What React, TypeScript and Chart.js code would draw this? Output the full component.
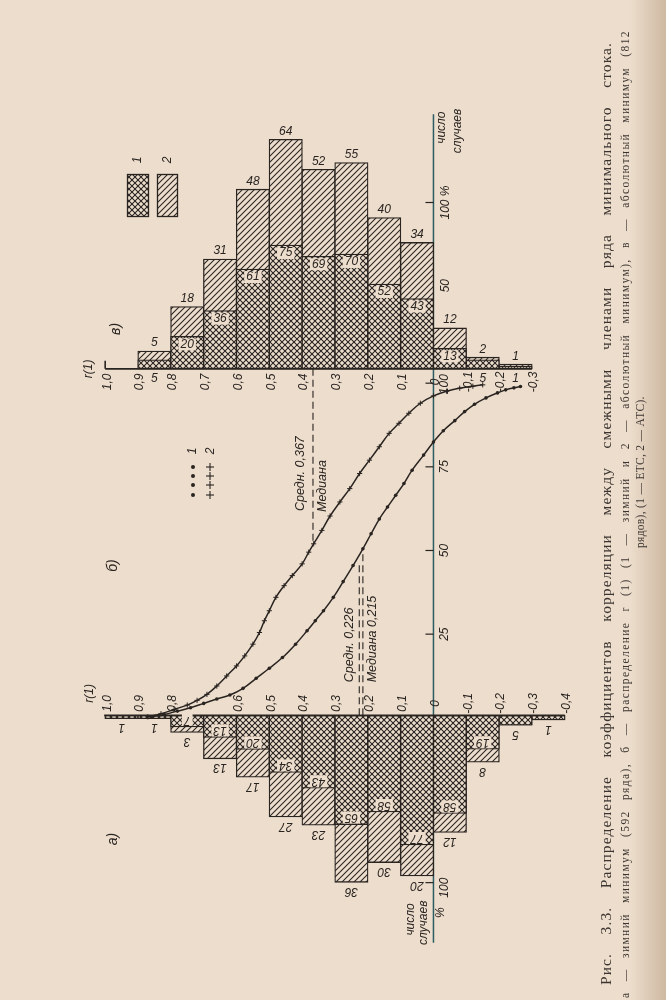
import React, { useEffect, useRef } from "react";
import { Chart, registerables } from "chart.js";

Chart.register(...registerables);

// ---------------- data ----------------
// panel в — absolute minimum (812 series): r(1) interval centres
const rCentersV = [0.85, 0.75, 0.65, 0.55, 0.45, 0.35, 0.25, 0.15, 0.05, -0.05, -0.15, -0.25];
const countLabelsV = [5, 18, 31, 48, 64, 52, 55, 40, 34, 12, 2, 1];
const outerLenV = [10.7, 37.4, 66, 108, 138, 120, 124, 91, 76, 24.6, 7, 2.8];
const innerLenV = [5.4, 19.5, 35, 60, 74.4, 67.7, 69, 51, 42.3, 12.3, 5.4, 1.5];
const innerLabelsV = [5, 20, 36, 61, 75, 69, 70, 52, 43, 13, 5, 1];

// panel а — winter minimum (592 series)
const rCentersA = [0.95, 0.85, 0.75, 0.65, 0.55, 0.45, 0.35, 0.25, 0.15, 0.05, -0.05, -0.15, -0.25, -0.35];
const countLabelsA = [1, 1, 3, 13, 17, 27, 23, 36, 30, 20, 12, 8, 5, 1];
const outerLenA = [2, 2, 10.2, 26, 37, 60.7, 65.7, 99.8, 88, 96, 70, 28, 5.9, 2.8];
const innerLenA = [2, 2, 6.9, 13.2, 20.4, 34.1, 43.6, 65.3, 57.8, 77.5, 58.7, 20.3, 5.9, 2.8];
const innerLabelsA = [null, null, 7, 13, 20, 34, 43, 65, 58, 77, 58, 19, null, null];

// panel б — cumulative distributions
const curve1R = [0.86, 0.82, 0.78, 0.74, 0.7, 0.66, 0.62, 0.58, 0.54, 0.5, 0.46, 0.42, 0.385, 0.36, 0.335, 0.305, 0.275, 0.245, 0.215, 0.19, 0.165, 0.14, 0.115, 0.09, 0.065, 0.03, 0.0, -0.03, -0.065, -0.095, -0.125, -0.16, -0.195, -0.22, -0.245, -0.265];
const curve1Pct = [0.3, 1.0, 2.0, 3.0, 4.3, 5.6, 6.8, 8.8, 11.8, 14.8, 18, 22, 26, 29, 32, 36, 40.7, 45.5, 50.5, 55, 59.4, 63, 66.5, 70, 74, 78.5, 82.4, 85.8, 88.8, 91.5, 93.7, 95.6, 97.1, 98, 98.6, 99];
const curve2R = [0.87, 0.83, 0.79, 0.75, 0.72, 0.69, 0.66, 0.63, 0.6, 0.575, 0.55, 0.53, 0.515, 0.5, 0.48, 0.455, 0.43, 0.4, 0.38, 0.365, 0.34, 0.315, 0.285, 0.255, 0.225, 0.195, 0.165, 0.135, 0.105, 0.075, 0.04, 0.0, -0.04, -0.08, -0.12, -0.15];
const curve2Pct = [0.3, 1.2, 2.5, 3.8, 5.2, 7, 9.5, 12.5, 15.5, 18.5, 22, 25.5, 29, 32, 36, 39.5, 42.5, 46, 49.5, 52, 56, 60.3, 64.5, 68.5, 73, 77, 81, 85, 88, 91, 94, 96.2, 97.6, 98.5, 99.1, 99.5];
const mean2 = 0.367;
const mean1 = 0.226;
const median1 = 0.215;

// tick labels
const rTicksV = [1.0, 0.9, 0.8, 0.7, 0.6, 0.5, 0.4, 0.3, 0.2, 0.1, 0, -0.1, -0.2, -0.3];
const rTicksA = [1.0, 0.9, 0.8, 0.6, 0.5, 0.4, 0.3, 0.2, 0.1, 0, -0.1, -0.2, -0.3, -0.4];
const pctTicksB = [25, 50, 75, 100];
const pctTicksV = [50, 100];
const pctLabelsV = ["50", "100 %"];
const pctTicksA = [50, 100];
const pctLabelsA = ["50", "100"];

const caption1 = "Рис. 3.3. Распределение коэффициентов корреляции между смежными членами ряда минимального стока.";
const caption2 = "а — зимний минимум (592 ряда), б — распределение r (1) (1 — зимний и 2 — абсолютный минимум), в — абсолютный минимум (812";
const caption3 = "рядов), (1 — ЕТС, 2 — АТС).";

// ---------------- layout / style ----------------
const W = 666;
const H = 1000;
const R_ONE_PX = 101.7;
const PX_PER_R = 333.3;
const ZERO_PX_V = 367.5;
const K_V = 1.68;
const ZERO_PX_A = 717.5;
const K_A = 1.69;
const ZERO_PX_B = 720;
const K_B = 3.38;

const INK = "#2a2421";
const PAPER = "#ecddcc";
const TEAL = "#2c5d63";
const AX_FONT = 'italic 12px "Liberation Sans", Arial, sans-serif';
const LBL_FONT = 'italic 12px "Liberation Sans", Arial, sans-serif';
const UP = -Math.PI / 2;

function makePattern(cross: boolean) {
  const s = 6;
  const c = document.createElement("canvas");
  c.width = s;
  c.height = s;
  const g = c.getContext("2d")!;
  g.fillStyle = PAPER;
  g.fillRect(0, 0, s, s);
  g.strokeStyle = INK;
  g.lineWidth = 1.05;
  const seg = (a: number, b: number, cc: number, d: number) => {
    g.beginPath();
    g.moveTo(a, b);
    g.lineTo(cc, d);
    g.stroke();
  };
  seg(-1, s + 1, s + 1, -1);
  seg(-1, 1, 1, -1);
  seg(s - 1, s + 1, s + 1, s - 1);
  if (cross) {
    seg(-1, -1, s + 1, s + 1);
    seg(s - 1, -1, s + 1, 1);
    seg(-1, s - 1, 1, s + 1);
  }
  return g.createPattern(c, "repeat");
}

function txt(ctx: any, s: string, x: number, y: number, rot: number, align = "center", base = "middle", font = AX_FONT, color = INK) {
  ctx.save();
  ctx.translate(x, y);
  ctx.rotate(rot);
  ctx.font = font;
  ctx.fillStyle = color;
  ctx.textAlign = align;
  ctx.textBaseline = base;
  ctx.fillText(s, 0, 0);
  ctx.restore();
}

function knockText(ctx: any, s: string, x: number, y: number, rot: number) {
  ctx.save();
  ctx.translate(x, y);
  ctx.rotate(rot);
  ctx.font = LBL_FONT;
  const w = ctx.measureText(s).width;
  ctx.fillStyle = PAPER;
  ctx.fillRect(-w / 2 - 2, -6, w + 4, 12);
  ctx.fillStyle = INK;
  ctx.textAlign = "center";
  ctx.textBaseline = "middle";
  ctx.fillText(s, 0, 0);
  ctx.restore();
}

function justified(ctx: any, s: string, x: number, yStart: number, yEnd: number | null, font: string, spacing: string, color: string) {
  ctx.save();
  ctx.translate(x, yStart);
  ctx.rotate(UP);
  ctx.font = font;
  try { ctx.letterSpacing = spacing; } catch (e) {}
  ctx.fillStyle = color;
  ctx.textAlign = "left";
  ctx.textBaseline = "alphabetic";
  if (yEnd === null) {
    ctx.fillText(s, 0, 0);
  } else {
    const words = s.split(" ");
    const ws = words.map((w) => ctx.measureText(w).width);
    const total = ws.reduce((a, b) => a + b, 0);
    const gap = (yStart - yEnd - total) / (words.length - 1);
    let p = 0;
    words.forEach((w, i) => {
      ctx.fillText(w, p, 0);
      p += ws[i] + gap;
    });
  }
  ctx.restore();
}

function fmtR(r: number) {
  if (Math.abs(r) < 1e-9) return "0";
  return (r < 0 ? "-" : "") + Math.abs(r).toFixed(1).replace(".", ",");
}

function pctAt(rs: number[], ps: number[], r: number) {
  for (let i = 0; i < rs.length - 1; i++) {
    if (rs[i] >= r && rs[i + 1] <= r) {
      const t = (rs[i] - r) / (rs[i] - rs[i + 1]);
      return ps[i] + t * (ps[i + 1] - ps[i]);
    }
  }
  return 0;
}

function makeOverlay(hatch: any, cross: any) {
  return {
    id: "overlay",
    beforeDraw(chart: any) {
      const ctx = chart.ctx;
      ctx.save();
      ctx.fillStyle = PAPER;
      ctx.fillRect(0, 0, W, H);
      const g = ctx.createLinearGradient(630, 0, W, 0);
      g.addColorStop(0, "rgba(170,140,110,0)");
      g.addColorStop(1, "rgba(170,140,110,0.45)");
      ctx.fillStyle = g;
      ctx.fillRect(630, 0, W - 630, H);
      ctx.restore();
    },
    beforeDatasetsDraw(chart: any) {
      const ctx = chart.ctx;
      const X = (v: number) => chart.scales.x.getPixelForValue(v);
      const YV = (v: number) => chart.scales.yV.getPixelForValue(v);
      const YA = (v: number) => chart.scales.yA.getPixelForValue(v);
      const YB = (v: number) => chart.scales.yB.getPixelForValue(v);
      const line = (a: number, b: number, c: number, d: number) => {
        ctx.beginPath();
        ctx.moveTo(a, b);
        ctx.lineTo(c, d);
        ctx.stroke();
      };
      ctx.save();
      // teal r = 0 / percent axis line
      ctx.strokeStyle = TEAL;
      ctx.lineWidth = 1.5;
      line(X(0), YV(153), X(0), YA(136));
      // percent ticks
      ctx.strokeStyle = INK;
      ctx.lineWidth = 1.2;
      const x0 = X(0);
      pctTicksV.forEach((p, i) => {
        line(x0 - 8, YV(p), x0, YV(p));
        txt(ctx, pctLabelsV[i], x0 + 12, YV(p), UP);
      });
      pctTicksB.forEach((p) => {
        line(x0 - 8, YB(p), x0, YB(p));
        txt(ctx, String(p), x0 + 11, YB(p) + (p === 100 ? 1 : 0), UP);
      });
      pctTicksA.forEach((p, i) => {
        line(x0 - 8, YA(p), x0, YA(p));
        txt(ctx, pctLabelsA[i], x0 + 11, YA(p) + 5, UP);
      });
      txt(ctx, "%", x0 + 7, YA(118), UP);
      txt(ctx, "число", x0 + 8, YV(145), UP);
      txt(ctx, "случаев", x0 + 24, YV(143), UP);
      txt(ctx, "число", x0 - 23, YA(122), UP);
      txt(ctx, "случаев", x0 - 10, YA(124), UP);

      // r tick labels
      rTicksV.forEach((r) => txt(ctx, fmtR(r), X(r) + 2, YV(0) + 13, UP));
      rTicksA.forEach((r) => txt(ctx, fmtR(r), X(r) + 2, YA(0) - 12, UP));
      txt(ctx, "r(1)", X(1.0) - 17, YV(0), UP);
      txt(ctx, "r(1)", X(1.0) - 16, YA(0) - 22, UP);

      // panel labels
      const PF = 'italic 14px "Liberation Sans", Arial, sans-serif';
      txt(ctx, "в)", X(1.0) + 11, YV(24), UP, "center", "middle", PF);
      txt(ctx, "б)", X(1.0) + 8, YB(45.5), UP, "center", "middle", PF);
      txt(ctx, "а)", X(1.0) + 8, YA(74), UP, "center", "middle", PF);

      // mean / median dashed lines
      ctx.setLineDash([7, 4]);
      ctx.lineWidth = 1.1;
      line(X(mean2), YV(0), X(mean2), YB(pctAt(curve2R, curve2Pct, mean2)));
      line(X(mean1), YA(0), X(mean1), YB(pctAt(curve1R, curve1Pct, mean1) - 2));
      line(X(median1), YA(0), X(median1), YB(pctAt(curve1R, curve1Pct, median1)));
      ctx.setLineDash([]);
      const AF = 'italic 12.5px "Liberation Sans", Arial, sans-serif';
      txt(ctx, "Средн. 0,367", X(mean2) - 12, YB(61.8), UP, "left", "middle", AF);
      txt(ctx, "Медиана", X(mean2) + 10, YB(61.5), UP, "left", "middle", AF);
      txt(ctx, "Средн. 0,226", X(mean1) - 10, YB(10.6), UP, "left", "middle", AF);
      txt(ctx, "Медиана 0,215", X(median1) + 10, YB(10.6), UP, "left", "middle", AF);

      // legend б
      [467, 476, 485, 495].forEach((y) => {
        ctx.fillStyle = INK;
        ctx.beginPath();
        ctx.arc(193, y, 2, 0, Math.PI * 2);
        ctx.fill();
        ctx.lineWidth = 1.1;
        line(206, y, 214, y);
        line(210, y - 4, 210, y + 4);
      });
      txt(ctx, "1", 193, 451, UP);
      txt(ctx, "2", 211, 451, UP);

      // legend в
      ctx.lineWidth = 1.3;
      ctx.fillStyle = cross;
      ctx.fillRect(127.5, 174.5, 21, 42);
      ctx.strokeRect(127.5, 174.5, 21, 42);
      ctx.fillStyle = hatch;
      ctx.fillRect(157.5, 174.5, 20, 42);
      ctx.strokeRect(157.5, 174.5, 20, 42);
      txt(ctx, "1", 138, 160, UP);
      txt(ctx, "2", 168, 160, UP);

      // caption
      const CAP = "#3b3430";
      justified(ctx, caption1, 611, 985, 42, '15.5px "Liberation Serif", "DejaVu Serif", serif', "1.1px", CAP);
      justified(ctx, caption2, 629, 998, 30, '11.5px "Liberation Serif", "DejaVu Serif", serif', "1.4px", CAP);
      justified(ctx, caption3, 644, 548, null, '11.5px "Liberation Serif", "DejaVu Serif", serif', "0.3px", CAP);
      ctx.restore();
    },
    afterDatasetsDraw(chart: any) {
      const ctx = chart.ctx;
      const X = (v: number) => chart.scales.x.getPixelForValue(v);
      const YV = (v: number) => chart.scales.yV.getPixelForValue(v);
      const YA = (v: number) => chart.scales.yA.getPixelForValue(v);
      const line = (a: number, b: number, c: number, d: number) => {
        ctx.beginPath();
        ctx.moveTo(a, b);
        ctx.lineTo(c, d);
        ctx.stroke();
      };
      ctx.save();
      ctx.strokeStyle = INK;
      ctx.lineWidth = 1.6;
      line(X(1.0), YV(0), X(-0.3), YV(0));
      line(X(1.0), YV(0), X(1.0), YV(0) - 8);
      line(X(1.0) - 1, YA(0), X(-0.4), YA(0));

      // panel в labels (upright)
      rCentersV.forEach((r, i) => {
        const xc = X(r);
        txt(ctx, String(countLabelsV[i]), xc, YV(outerLenV[i]) - 2, 0, "center", "bottom", LBL_FONT);
        if (innerLenV[i] < 8) {
          txt(ctx, String(innerLabelsV[i]), xc, YV(0) + 10, 0, "center", "middle", LBL_FONT);
        } else {
          knockText(ctx, String(innerLabelsV[i]), xc, YV(innerLenV[i]) + 8, 0);
        }
      });
      // panel а labels (upside down)
      rCentersA.forEach((r, i) => {
        const xc = X(r);
        txt(ctx, String(countLabelsA[i]), xc, YA(outerLenA[i]) + 9, Math.PI, "center", "middle", LBL_FONT);
        const il = innerLabelsA[i];
        if (il !== null) knockText(ctx, String(il), xc, YA(innerLenA[i]) - 7, Math.PI);
      });
      ctx.restore();
    },
  };
}

export default function App() {
  const ref = useRef<HTMLCanvasElement>(null);
  useEffect(() => {
    const canvas = ref.current;
    if (!canvas) return;
    const hatch = makePattern(false);
    const cross = makePattern(true);
    const xMax = 1 + R_ONE_PX / PX_PER_R;
    const xMin = xMax - W / PX_PER_R;
    const up = (zero: number, k: number) => ({ max: zero / k, min: zero / k - H / k });
    const down = (zero: number, k: number) => ({ min: -zero / k, max: -zero / k + H / k });
    const barCommon: any = {
      type: "bar",
      xAxisID: "x",
      grouped: false,
      barThickness: 0.1 * PX_PER_R,
      borderColor: INK,
      borderWidth: 1.3,
      borderSkipped: false,
    };
    const chart = new Chart(canvas, {
      type: "bar",
      data: {
        datasets: [
          { ...barCommon, label: "в2", yAxisID: "yV", order: 2, backgroundColor: hatch, data: rCentersV.map((r, i) => ({ x: r, y: outerLenV[i] })) },
          { ...barCommon, label: "в1", yAxisID: "yV", order: 1, backgroundColor: cross, data: rCentersV.map((r, i) => ({ x: r, y: innerLenV[i] })) },
          { ...barCommon, label: "а2", yAxisID: "yA", order: 2, backgroundColor: hatch, data: rCentersA.map((r, i) => ({ x: r, y: outerLenA[i] })) },
          { ...barCommon, label: "а1", yAxisID: "yA", order: 1, backgroundColor: cross, data: rCentersA.map((r, i) => ({ x: r, y: innerLenA[i] })) },
          {
            type: "line", label: "б1", xAxisID: "x", yAxisID: "yB", order: 0,
            data: curve1R.map((r, i) => ({ x: r, y: curve1Pct[i] })),
            borderColor: INK, borderWidth: 1.5, tension: 0.4, fill: false,
            pointStyle: "circle", pointRadius: 1.8, pointBackgroundColor: INK, pointBorderWidth: 0,
          },
          {
            type: "line", label: "б2", xAxisID: "x", yAxisID: "yB", order: 0,
            data: curve2R.map((r, i) => ({ x: r, y: curve2Pct[i] })),
            borderColor: INK, borderWidth: 1.5, tension: 0.4, fill: false,
            pointStyle: "cross", pointRadius: 2.6, pointBorderColor: INK, pointBorderWidth: 1,
          },
        ] as any,
      },
      options: {
        animation: false,
        responsive: false,
        maintainAspectRatio: false,
        events: [],
        layout: { padding: 0 },
        plugins: { legend: { display: false }, tooltip: { enabled: false } },
        scales: {
          x: { type: "linear", display: false, reverse: true, offset: false, bounds: "data", min: xMin, max: xMax },
          yV: { type: "linear", display: false, bounds: "data", ...up(ZERO_PX_V, K_V) },
          yB: { type: "linear", display: false, bounds: "data", ...up(ZERO_PX_B, K_B) },
          yA: { type: "linear", display: false, bounds: "data", reverse: true, ...down(ZERO_PX_A, K_A) },
        },
      } as any,
      plugins: [makeOverlay(hatch, cross)],
    });
    return () => chart.destroy();
  }, []);
  return (
    <div style={{ position: "absolute", left: 0, top: 0, width: W, height: H, overflow: "hidden", background: PAPER }}>
      <canvas ref={ref} width={W} height={H} style={{ display: "block", width: W, height: H }} />
    </div>
  );
}
